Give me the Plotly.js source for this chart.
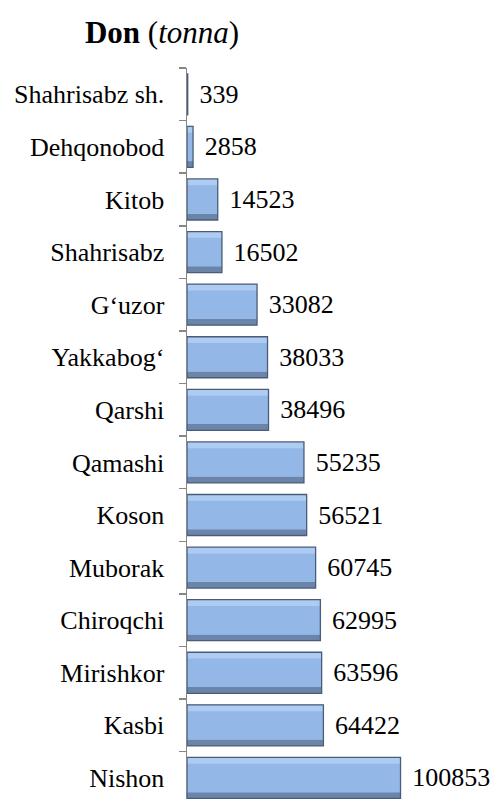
<!DOCTYPE html>
<html>
<head>
<meta charset="utf-8">
<script src="https://cdn.plot.ly/plotly-3.0.1.min.js"></script>
<style>html,body{margin:0;padding:0;background:#fff;}#chart{width:494px;height:799px;}</style>
</head>
<body>
<div id="chart"></div>
<script>
// Categories listed bottom to top
const districts = ['Nishon','Kasbi','Mirishkor','Chiroqchi','Muborak','Koson','Qamashi','Qarshi','Yakkabog‘','G‘uzor','Shahrisabz','Kitob','Dehqonobod','Shahrisabz sh.'];
const grain = [100853,64422,63596,62995,60745,56521,55235,38496,38033,33082,16502,14523,2858,339];
const valueLabels = grain.map(v => '\u00a0\u200a' + String(v));

const serif = 'Liberation Serif';

const base = {
  type:'bar', orientation:'h', x:grain, y:districts, hoverinfo:'skip', showlegend:false
};
const traces = [
  Object.assign({}, base, {
    width:0.78, offset:-0.39, marker:{color:'#6A84AA', line:{width:0}}
  }),
  Object.assign({}, base, {
    width:0.66, offset:-0.27, marker:{color:'#AECBF1', line:{width:0}}
  }),
  Object.assign({}, base, {
    width:0.54, offset:-0.27, marker:{color:'#93B8E8', line:{width:0}}
  }),
  Object.assign({}, base, {
    width:0.78, offset:-0.39, marker:{color:'rgba(0,0,0,0)', line:{color:'#4A5D78', width:1.3}},
    text:valueLabels, textposition:'outside', constraintext:'none', cliponaxis:false,
    textfont:{family:serif, size:26, color:'#000'}
  })
];

const layout = {
  width:494, height:799,
  margin:{l:187, r:0, t:68, b:0},
  paper_bgcolor:'#fff', plot_bgcolor:'#fff',
  barmode:'overlay',
  font:{family:serif, size:26, color:'#000'},
  title:{
    text:'<b>Don</b> (<i>tonna</i>)',
    font:{family:serif, size:31, color:'#000'},
    x:162/494, xanchor:'center', xref:'container',
    y:1-32/799, yanchor:'middle', yref:'container'
  },
  xaxis:{range:[0,145000], visible:false, fixedrange:true},
  yaxis:{
    type:'category', range:[-0.4,13.5],
    showline:true, linecolor:'#868686', linewidth:1.5,
    ticks:'outside', ticklen:7, tickcolor:'#868686', tickwidth:1.5,
    tickson:'boundaries', showgrid:false, zeroline:false,
    ticklabelstandoff:16,
    tickfont:{family:serif, size:26, color:'#000'}
  }
};

Plotly.newPlot('chart', traces, layout, {staticPlot:true, displayModeBar:false});
</script>
</body>
</html>
